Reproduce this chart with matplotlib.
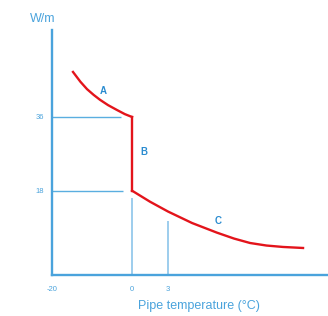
import matplotlib

matplotlib.use("Agg")
import matplotlib.pyplot as plt

# schematic chart: x positions are in "drawn" units, labels carry the real values
curve_a_x = [-4.92, -4.3, -3.75, -3.2, -2.67, -2.0, -1.25, -0.6, 0.0]
curve_a_y = [47.0, 44.6, 42.8, 41.4, 40.2, 38.9, 37.7, 36.7, 36.0]
curve_b_x = [0.0, 0.0]
curve_b_y = [36.0, 18.0]
curve_c_x = [0.0, 1.5, 3.0, 5.0, 7.08, 8.5, 9.83, 11.2, 12.58, 14.25]
curve_c_y = [18.0, 15.3, 12.9, 10.1, 7.74, 6.3, 5.22, 4.6, 4.25, 4.0]

guide_h = [(36.0, -0.92), (18.0, -0.75)]
guide_v = [(0.0, 16.1), (3.0, 10.7)]

xtick_pos = [-6.67, 0.0, 3.0]
xtick_labels = ["-20", "0", "3"]
ytick_pos = [18, 36]
ytick_labels = ["18", "36"]

segment_labels = ["A", "B", "C"]
segment_x = [-2.42, 1.0, 7.14]
segment_y = [42.4, 27.5, 10.7]

AXIS_BLUE = "#4aa3dc"
GUIDE_BLUE = "#5aaee0"
LIGHT_BLUE = "#8cc5ea"
LABEL_BLUE = "#2b8cd0"
RED = "#e3141b"

plt.rcParams["font.family"] = ["Liberation Sans", "DejaVu Sans"]

fig = plt.figure(figsize=(3.28, 3.16), dpi=100)
ax = fig.add_axes([52 / 328, 41 / 316, 276 / 328, 245 / 316])
ax.set_xlim(-6.67, 16.33)
ax.set_ylim(-2.6, 57.25)

for spine in ("top", "right"):
    ax.spines[spine].set_visible(False)
for spine in ("left", "bottom"):
    ax.spines[spine].set_color(AXIS_BLUE)
    ax.spines[spine].set_linewidth(1.7)

for y, x_end in guide_h:
    ax.plot([-6.67, x_end], [y, y], color=GUIDE_BLUE, lw=1.0, solid_capstyle="butt")
for x, y_end in guide_v:
    ax.plot([x, x], [-2.6, y_end], color=LIGHT_BLUE, lw=1.2, solid_capstyle="butt")

ax.plot(curve_a_x, curve_a_y, color=RED, lw=1.7, solid_joinstyle="round")
ax.plot(curve_b_x, curve_b_y, color=RED, lw=1.7)
ax.plot(curve_c_x, curve_c_y, color=RED, lw=1.7, solid_joinstyle="round")

for label, x, y in zip(segment_labels, segment_x, segment_y):
    ax.text(x, y, label, color=LABEL_BLUE, fontsize=7, fontweight="bold", ha="center", va="center")

ax.set_xticks(xtick_pos, xtick_labels)
ax.set_yticks(ytick_pos, ytick_labels)
ax.tick_params(axis="both", length=0, labelsize=5.5, labelcolor=AXIS_BLUE)
ax.tick_params(axis="x", pad=8)
ax.tick_params(axis="y", pad=6)

ax.text(-7.42, 59.9, "W/m", color=AXIS_BLUE, fontsize=9, ha="center", va="center", clip_on=False)
fig.text(199 / 328, 1 - 306 / 316, "Pipe temperature (°C)", color=AXIS_BLUE, fontsize=9, ha="center", va="center")

fig.savefig("out.png", dpi=100)
